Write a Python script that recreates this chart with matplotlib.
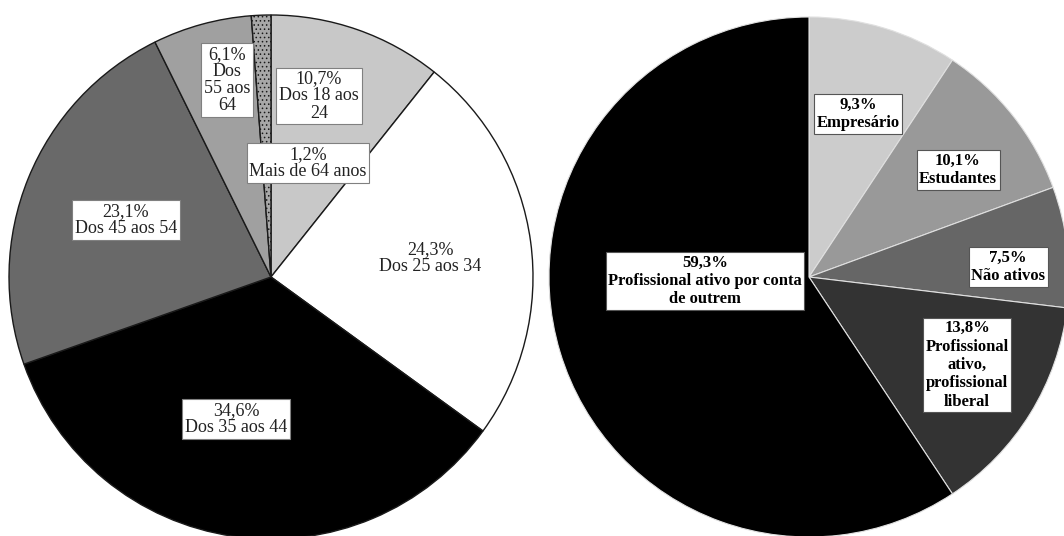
import matplotlib
matplotlib.use("Agg")
import matplotlib.pyplot as plt

plt.rcParams["font.family"] = ["Liberation Serif", "DejaVu Serif"]
plt.rcParams["hatch.color"] = "#3c3c3c"
plt.rcParams["hatch.linewidth"] = 0.6

# left pie: age groups (clockwise from 12 o'clock)
AGE_LABELS = ["Dos 18 aos\n24", "Dos 25 aos 34", "Dos 35 aos 44",
              "Dos 45 aos 54", "Dos\n55 aos\n64", "Mais de 64 anos"]
AGE_PCT = [10.7, 24.3, 34.6, 23.1, 6.1, 1.2]
AGE_COLORS = ["#c8c8c8", "#ffffff", "#000000", "#696969", "#a0a0a0", "#a8a8a8"]

# right pie: occupation (clockwise from 12 o'clock)
OCC_LABELS = ["Empresário", "Estudantes", "Não ativos",
              "Profissional\nativo,\nprofissional\nliberal",
              "Profissional ativo por conta\nde outrem"]
OCC_PCT = [9.3, 10.1, 7.5, 13.8, 59.3]
OCC_COLORS = ["#cccccc", "#999999", "#666666", "#333333", "#000000"]

W, H = 1064, 536
fig = plt.figure(figsize=(W / 100, H / 100), dpi=100)
ax = fig.add_axes([0, 0, 1, 1])

left_c, left_r = (271, H - 277), 262
right_c, right_r = (809, H - 277), 260

wl, _ = ax.pie(AGE_PCT, colors=AGE_COLORS, startangle=90, counterclock=False,
               center=left_c, radius=left_r,
               wedgeprops=dict(edgecolor="#1a1a1a", linewidth=1.0))
wl[-1].set_hatch("....")

wr, _ = ax.pie(OCC_PCT, colors=OCC_COLORS, startangle=90, counterclock=False,
               center=right_c, radius=right_r,
               wedgeprops=dict(edgecolor="#e0e0e0", linewidth=0.8))

# label offsets from pie centre (px, y up)
age_off = [(48, 181), (159, 19), (-35, -142), (-145, 57), (-44, 197), (37, 114)]
occ_off = [(49, 163), (149, 107), (199, 10), (158, -88), (-104, -4)]

for lab, p, (dx, dy) in zip(AGE_LABELS, AGE_PCT, age_off):
    txt = f"{p:.1f}%".replace(".", ",") + "\n" + lab
    b = dict(boxstyle="square,pad=0.15", facecolor="white",
             edgecolor="#808080", linewidth=0.8)
    if lab == "Dos 25 aos 34":
        b = None
    ax.text(left_c[0] + dx, left_c[1] + dy, txt, ha="center", va="center",
            fontsize=13, linespacing=1.0, color="#222222", bbox=b)

for lab, p, (dx, dy) in zip(OCC_LABELS, OCC_PCT, occ_off):
    txt = f"{p:.1f}%".replace(".", ",") + "\n" + lab
    b = dict(boxstyle="square,pad=0.15", facecolor="white",
             edgecolor="#555555", linewidth=0.8)
    ax.text(right_c[0] + dx, right_c[1] + dy, txt, ha="center", va="center",
            fontsize=12, fontweight="bold", linespacing=1.2, bbox=b)

ax.set_aspect("auto")
ax.set_xlim(0, W)
ax.set_ylim(0, H)
ax.axis("off")

fig.savefig("out.png", dpi=100)
